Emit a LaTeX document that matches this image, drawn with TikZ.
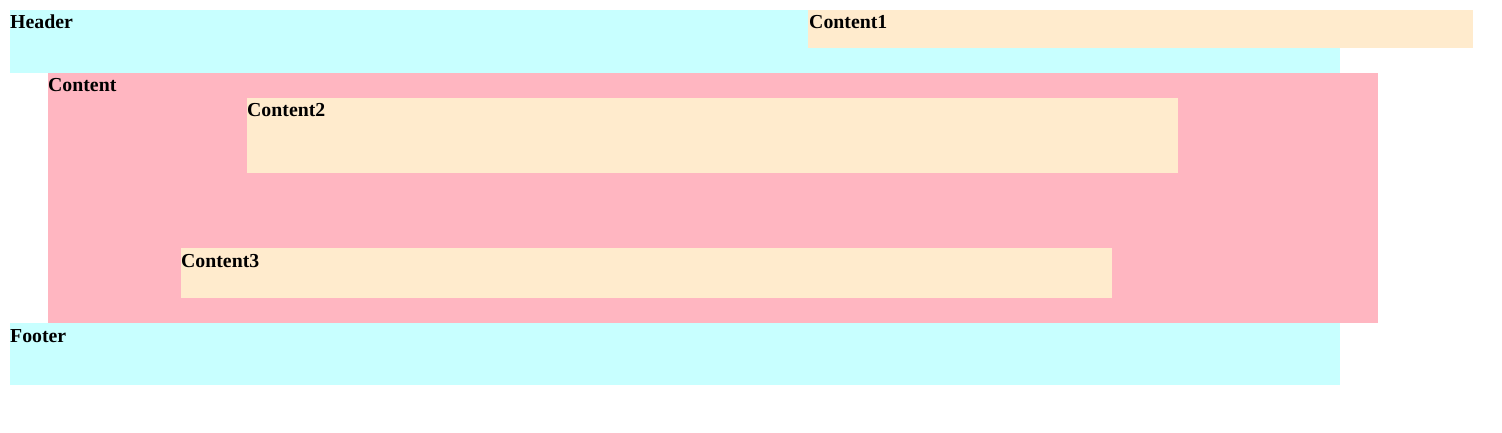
\documentclass[tikz,border=0pt]{standalone}
\usepackage{fontspec}
\setmainfont{Liberation Serif}
\definecolor{headcol}{HTML}{C8FFFF}
\definecolor{pinkcol}{HTML}{FFB6C1}
\definecolor{boxcol}{HTML}{FFEBCD}
\tikzset{
	label/.style={anchor=base west, inner sep=0pt, font=\fontsize{19.8}{23}\selectfont\bfseries},
}
\begin{document}
\begin{tikzpicture}[x=1pt,y=-1pt]
\useasboundingbox (0,0) rectangle (1502,433);

\fill[headcol] (10,10) rectangle (1340,73);
\fill[boxcol] (808,10) rectangle (1473,48);
\fill[pinkcol] (48,73) rectangle (1378,323);
\fill[boxcol] (247,98) rectangle (1178,173);
\fill[boxcol] (181,248) rectangle (1112,298);
\fill[headcol] (10,323) rectangle (1340,385);

\node[label] (header) at (10,29) {Header};
\node[label] (content1) at (809,29) {Content1};
\node[label] (content) at (48,92) {Content};
\node[label] (content2) at (247,117) {Content2};
\node[label] (content3) at (181,267) {Content3};
\node[label] (footer) at (10,342) {Footer};
\end{tikzpicture}
\end{document}
